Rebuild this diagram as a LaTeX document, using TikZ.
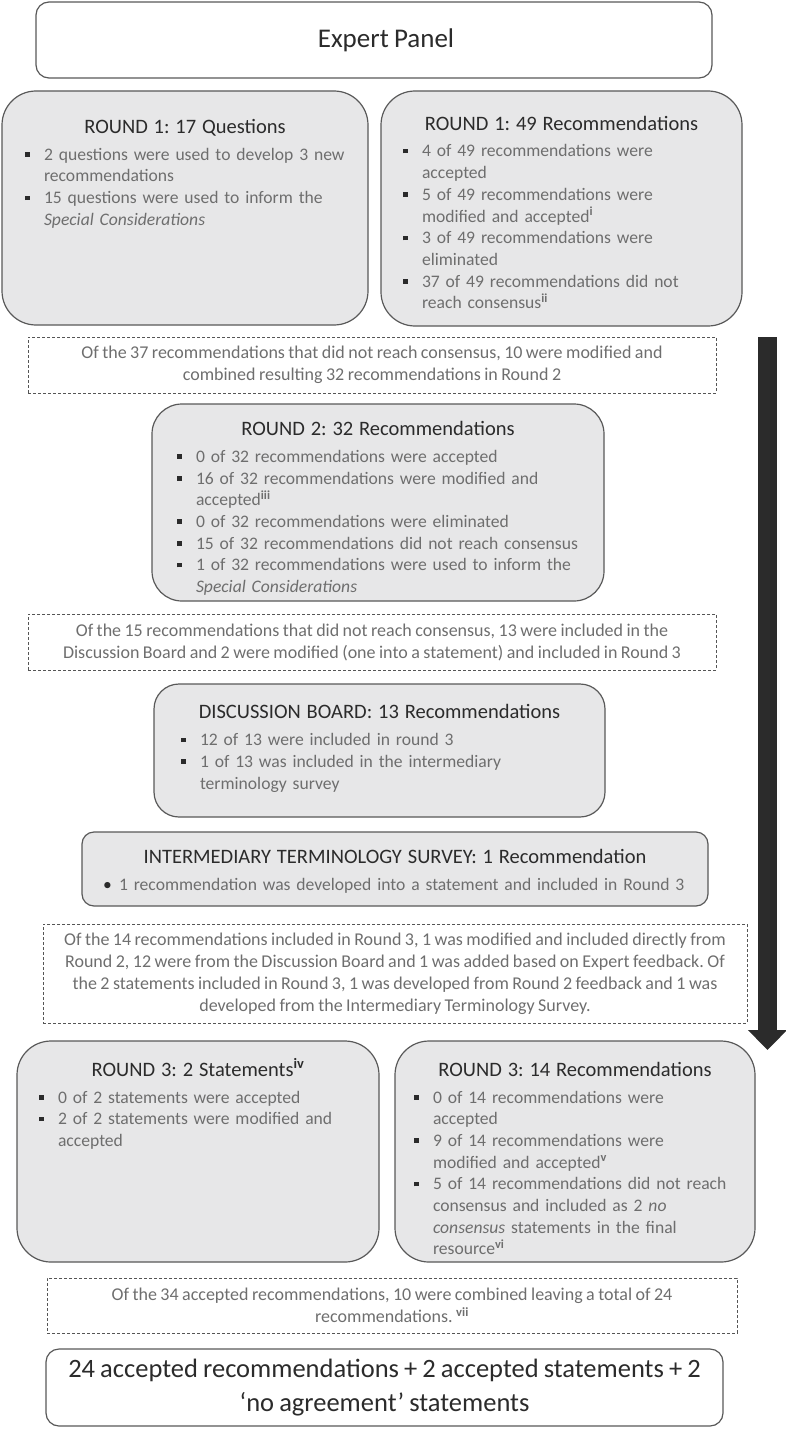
\documentclass[tikz,border=0pt]{standalone}
\usepackage{fontspec}
\setmainfont{Carlito}[WordSpace=0.85]
\usetikzlibrary{arrows.meta,positioning}

\definecolor{boxfill}{HTML}{E7E7E8}
\definecolor{boxline}{HTML}{595959}
\definecolor{ttlgray}{HTML}{2B2B2B}
\definecolor{txtgray}{HTML}{6E6E6E}
\definecolor{dashgray}{HTML}{555555}

\newcommand\sqbul{\textcolor{ttlgray}{\rule[3.5pt]{4.5pt}{4.5pt}}}
\newcommand\itm[1]{\par\hangindent=19pt\hangafter=1\noindent\hbox to 19pt{\sqbul\hfil}#1\par}
\newcommand\itmr[1]{\par\hangindent=16pt\hangafter=1\noindent\hbox to 16pt{\textcolor{ttlgray}{\textbullet}\hfil}#1\par}
\newcommand\ttl[1]{{\fontsize{20.5}{24}\selectfont\color{ttlgray}\centering\rule{0pt}{20pt}#1\par}\vspace{5pt}}
\newcommand\sups[1]{\textsuperscript{\textbf{#1}}}

\begin{document}
\frenchspacing
\begin{tikzpicture}[x=1pt,y=-1pt,
      rbox/.style={draw=boxline,fill=boxfill,line width=1.2pt,rounded corners=#1},
      rbox/.default=34pt,
      pbox/.style={draw=boxline,fill=white,line width=1.2pt,rounded corners=13pt,
        text=ttlgray,align=center},
      note/.style={draw=dashgray,dash pattern=on 3pt off 2pt,line width=0.9pt,
        align=center,text=txtgray,font={\fontsize{18}{22}\selectfont}},
      txt/.style={inner sep=0pt,anchor=north,align=left,text=txtgray,
        font={\fontsize{17.6}{21.7}\selectfont}}]
      \useasboundingbox (0,0) rectangle (786,1442);

      \node[pbox,minimum width=676pt,minimum height=76pt,font={\fontsize{27}{32}\selectfont}]
        (exp) at (374,40) {\hspace*{24pt}Expert Panel};

      \node[rbox,minimum width=366pt,minimum height=234pt] (r1q) at (185,208) {};
      \node[txt,text width=366pt] (r1qtxt) at ([yshift=-23pt]r1q.north) {%
        \ttl{ROUND 1: 17 Questions}\leftskip=23pt
        \itm{2 questions were used to develop 3 new\newline recommendations}
        \itm{15 questions were used to inform the\newline \textit{Special Considerations}}};

      \node[rbox,minimum width=361pt,minimum height=235pt] (r1r) at (561.5,208.5) {};
      \node[txt,text width=361pt] (r1rtxt) at ([yshift=-19.7pt]r1r.north) {%
        \ttl{ROUND 1: 49 Recommendations}\leftskip=22pt
        \itm{4 of 49 recommendations were\newline accepted}
        \itm{5 of 49 recommendations were\newline modified and accepted\sups{i}}
        \itm{3 of 49 recommendations were\newline eliminated}
        \itm{37 of 49 recommendations did not\newline reach consensus\sups{ii}}};

      \node[note,minimum width=688pt,minimum height=56pt] (n1) at (372,365)
        {Of the 37 recommendations that did not reach consensus, 10 were modified and\\
         combined resulting 32 recommendations in Round 2};

      \node[rbox=30pt,minimum width=452pt,minimum height=197pt] (r2) at (378,502.5) {};
      \node[txt,text width=452pt] (r2txt) at ([yshift=-12pt]r2.north) {%
        \ttl{ROUND 2: 32 Recommendations}\leftskip=25pt
        \itm{0 of 32 recommendations were accepted}
        \itm{16 of 32 recommendations were modified and\newline accepted\sups{iii}}
        \itm{0 of 32 recommendations were eliminated}
        \itm{15 of 32 recommendations did not reach consensus}
        \itm{1 of 32 recommendations were used to inform the\newline \textit{Special Considerations}}};

      \node[note,minimum width=688pt,minimum height=56pt] (n2) at (372,642)
        {Of the 15 recommendations that did not reach consensus, 13 were included in the\\
         Discussion Board and 2 were modified (one into a statement) and included in Round 3};

      \node[rbox=25pt,minimum width=451pt,minimum height=133pt] (db) at (379.5,750.5) {};
      \node[txt,text width=451pt] (dbtxt) at ([yshift=-15.3pt]db.north) {%
        \ttl{DISCUSSION BOARD: 13 Recommendations}\leftskip=27pt
        \itm{12 of 13 were included in round 3}
        \itm{1 of 13 was included in the intermediary\newline terminology survey}};

      \node[rbox=12pt,minimum width=626pt,minimum height=74pt] (its) at (395,869) {};
      \node[txt,text width=626pt] (itstxt) at ([yshift=-12pt]its.north) {%
        \ttl{INTERMEDIARY TERMINOLOGY SURVEY: 1 Recommendation}\leftskip=21pt
        \itmr{1 recommendation was developed into a statement and included in Round 3}};

      \node[note,minimum width=704pt,minimum height=99pt] (n3) at (395,973.5)
        {Of the 14 recommendations included in Round 3, 1 was modified and included directly from\\
         Round 2, 12 were from the Discussion Board and 1 was added based on Expert feedback. Of\\
         the 2 statements included in Round 3, 1 was developed from Round 2 feedback and 1 was\\
         developed from the Intermediary Terminology Survey.};

      \node[rbox,minimum width=362pt,minimum height=221pt] (r3s) at (198,1151.5) {};
      \node[txt,text width=362pt] (r3stxt) at ([yshift=-15.7pt]r3s.north) {%
        \ttl{ROUND 3: 2 Statements\sups{iv}}\leftskip=22pt
        \itm{0 of 2 statements were accepted}
        \itm{2 of 2 statements were modified and\newline accepted}};

      \node[rbox,minimum width=360pt,minimum height=221pt] (r3r) at (575,1151.5) {};
      \node[txt,text width=360pt] (r3rtxt) at ([yshift=-15.7pt]r3r.north) {%
        \ttl{ROUND 3: 14 Recommendations}\leftskip=19pt
        \itm{0 of 14 recommendations were\newline accepted}
        \itm{9 of 14 recommendations were\newline modified and accepted\sups{v}}
        \itm{5 of 14 recommendations did not reach\newline consensus and included as 2 \textit{no}\newline
          \textit{consensus} statements in the final\newline resource\sups{vi}}};

      \node[note,minimum width=690pt,minimum height=55pt] (n4) at (392,1305.5)
        {Of the 34 accepted recommendations, 10 were combined leaving a total of 24\\
         recommendations. \sups{vii}};

      \node[pbox,minimum width=677pt,minimum height=77pt,font={\fontsize{26.5}{34}\selectfont}]
        (fin) at (384.5,1387.5)
        {24 accepted recommendations + 2 accepted statements + 2\\ ‘no agreement’ statements};

      \coordinate (atop) at (767.5,337);
      \coordinate (abot) at (767.5,1050);
      \draw[ttlgray,line width=19pt,-{Triangle[length=20pt,width=38pt]}] (atop) -- (abot);
    \end{tikzpicture}
\end{document}
